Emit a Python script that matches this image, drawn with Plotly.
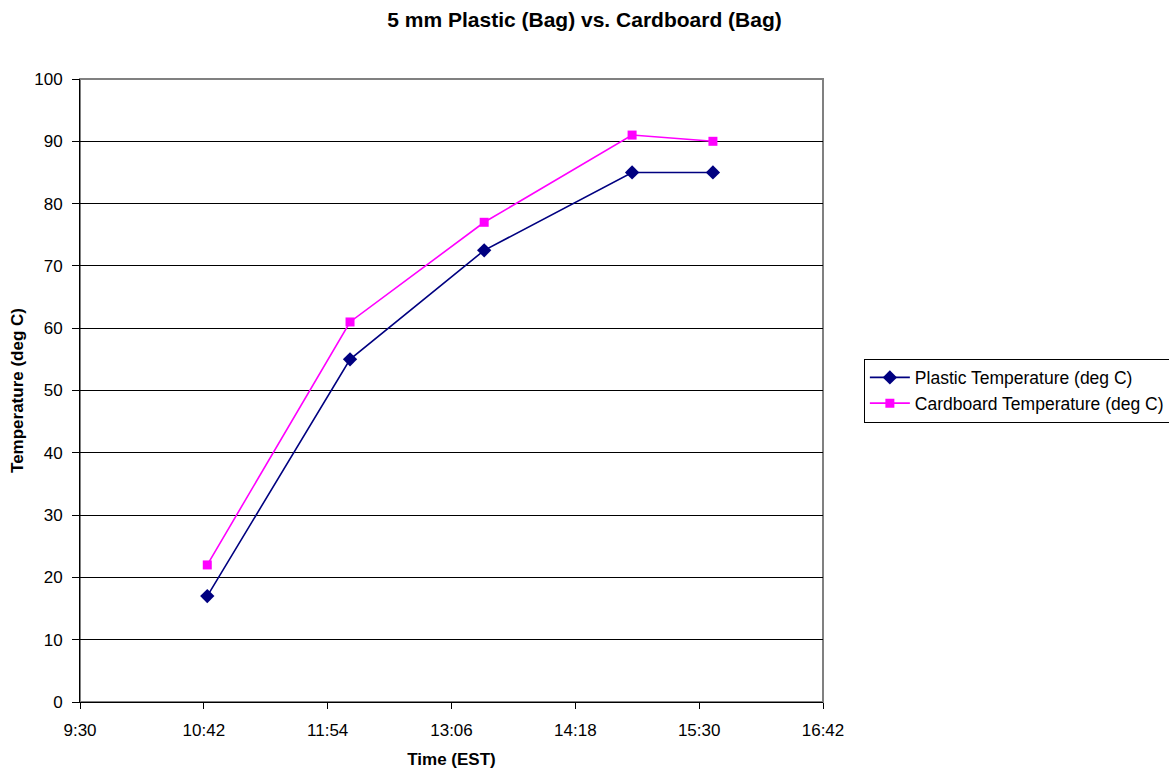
import plotly.graph_objects as go

times = ["10:44", "12:07", "13:25", "14:51", "15:38"]
plastic = [17, 55, 72.5, 85, 85]
cardboard = [22, 61, 77, 91, 90]
x_ticks = ["09:30", "10:42", "11:54", "13:06", "14:18", "15:30", "16:42"]
y_ticks = [0, 10, 20, 30, 40, 50, 60, 70, 80, 90, 100]

day = "2000-01-01 "
xs = [day + t for t in times]

fig = go.Figure()
fig.add_trace(go.Scatter(
    x=xs, y=plastic, mode="lines+markers", name="Plastic Temperature (deg C)",
    line=dict(color="#000080", width=1.6),
    marker=dict(symbol="diamond", size=11, color="#000080"),
))
fig.add_trace(go.Scatter(
    x=xs, y=cardboard, mode="lines+markers", name="Cardboard Temperature (deg C)",
    line=dict(color="#FF00FF", width=1.6),
    marker=dict(symbol="square", size=9, color="#FF00FF"),
))

font_family = "Liberation Sans, Arial, sans-serif"

fig.update_layout(
    width=1169, height=769,
    margin=dict(l=80, r=346, t=79, b=67, autoexpand=False),
    paper_bgcolor="white", plot_bgcolor="white",
    font=dict(family=font_family, size=17, color="black"),
    title=dict(text="<b>5 mm Plastic (Bag) vs. Cardboard (Bag)</b>",
               x=0.5, xanchor="center", xref="container", y=0.974, yanchor="middle",
               font=dict(size=21, family=font_family)),
    showlegend=True,
    legend=dict(x=1.055, xanchor="left", y=0.5, yanchor="middle",
                bordercolor="black", borderwidth=1, bgcolor="white",
                font=dict(size=17.5), tracegroupgap=0, itemwidth=40),
    shapes=[dict(type="rect", xref="paper", yref="paper", x0=0, x1=1, y0=0, y1=1,
                 line=dict(color="#808080", width=2), layer="below")],
)

fig.update_xaxes(
    type="date",
    range=[day + x_ticks[0], day + x_ticks[-1]],
    tickvals=[day + t for t in x_ticks],
    tickformat="%-H:%M",
    ticks="outside", ticklen=6, tickcolor="black",
    ticklabelstandoff=7,
    showline=True, linecolor="black", linewidth=1,
    showgrid=False, zeroline=False,
    title=dict(text="<b>Time (EST)</b>", font=dict(size=17), standoff=14),
    tickfont=dict(size=17),
)
fig.update_yaxes(
    range=[0, 100],
    tickvals=y_ticks,
    ticks="outside", ticklen=7, tickcolor="black",
    ticklabelstandoff=6,
    showline=True, linecolor="black", linewidth=1,
    showgrid=True, gridcolor="black", gridwidth=1,
    zeroline=False,
    title=dict(text="<b>Temperature (deg C)</b>", font=dict(size=17), standoff=6),
    tickfont=dict(size=17),
)

fig.write_html("out.html")
